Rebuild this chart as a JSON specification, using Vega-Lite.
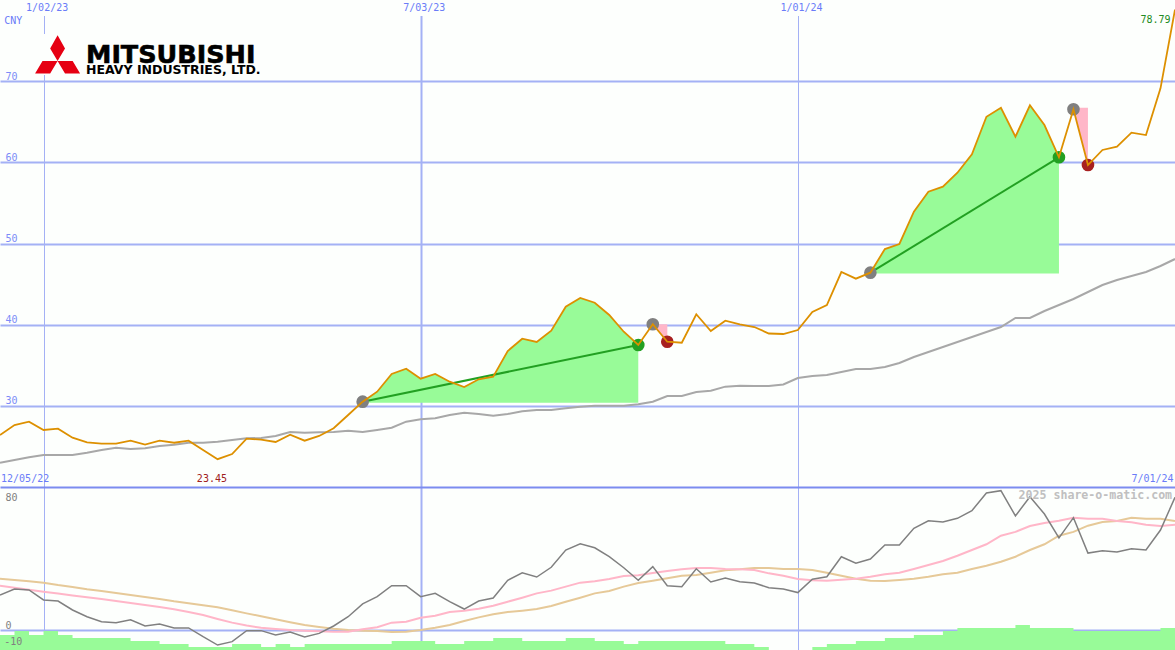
{
  "$schema": "https://vega.github.io/schema/vega-lite/v6.json",
  "background": "#fdfffd",
  "padding": 0,
  "spacing": 0,
  "bounds": "flush",
  "config": {
    "view": {"stroke": null},
    "font": "DejaVu Sans Mono",
    "axis": {"title": null, "ticks": false, "labelFont": "DejaVu Sans Mono", "labelFontSize": 10, "labelBound": false, "labelFlush": false, "labelOverlap": false, "minExtent": 0, "maxExtent": 0}
  },
  "datasets": {
    "weeks": [
      {"date": "2022-12-12", "price": 26.43, "ma": 23.02, "osc": 21.9, "sig": 27.7, "slow": 32.1, "hist": -3.1},
      {"date": "2022-12-19", "price": 27.66, "ma": 23.35, "osc": 25.6, "sig": 26.4, "slow": 31.3, "hist": -0.6},
      {"date": "2022-12-26", "price": 28.07, "ma": 23.69, "osc": 25, "sig": 25.2, "slow": 30.4, "hist": -3.1},
      {"date": "2023-01-02", "price": 27.05, "ma": 23.97, "osc": 18.8, "sig": 23.9, "slow": 29.6, "hist": -0.6},
      {"date": "2023-01-09", "price": 27.21, "ma": 23.97, "osc": 18.1, "sig": 22.8, "slow": 28.1, "hist": -3.1},
      {"date": "2023-01-16", "price": 26.1, "ma": 23.97, "osc": 12.5, "sig": 21.6, "slow": 26.9, "hist": -5},
      {"date": "2023-01-23", "price": 25.53, "ma": 24.25, "osc": 8.3, "sig": 20.4, "slow": 25.4, "hist": -5},
      {"date": "2023-01-30", "price": 25.36, "ma": 24.58, "osc": 5.2, "sig": 19.4, "slow": 24.4, "hist": -5},
      {"date": "2023-02-06", "price": 25.36, "ma": 24.87, "osc": 4.6, "sig": 18.1, "slow": 23.1, "hist": -5},
      {"date": "2023-02-13", "price": 25.73, "ma": 24.71, "osc": 6.4, "sig": 16.9, "slow": 21.9, "hist": -6.9},
      {"date": "2023-02-20", "price": 25.24, "ma": 24.79, "osc": 2.5, "sig": 15.6, "slow": 20.6, "hist": -6.9},
      {"date": "2023-02-27", "price": 25.73, "ma": 25.08, "osc": 3.8, "sig": 14.4, "slow": 19.4, "hist": -8.75},
      {"date": "2023-03-06", "price": 25.48, "ma": 25.24, "osc": 1.3, "sig": 12.9, "slow": 17.9, "hist": -8.75},
      {"date": "2023-03-13", "price": 25.73, "ma": 25.48, "osc": 1.3, "sig": 11.3, "slow": 16.7, "hist": -10.6},
      {"date": "2023-03-20", "price": 24.58, "ma": 25.48, "osc": -4.2, "sig": 9.4, "slow": 15.4, "hist": -10.6},
      {"date": "2023-03-27", "price": 23.45, "ma": 25.61, "osc": -9.4, "sig": 6.9, "slow": 14.2, "hist": -10.6},
      {"date": "2023-04-03", "price": 24.09, "ma": 25.82, "osc": -7.3, "sig": 4.6, "slow": 12.3, "hist": -8.75},
      {"date": "2023-04-10", "price": 25.98, "ma": 26.02, "osc": -0.4, "sig": 2.8, "slow": 10.4, "hist": -8.75},
      {"date": "2023-04-17", "price": 25.85, "ma": 26.06, "osc": -0.4, "sig": 1.4, "slow": 8.6, "hist": -10.6},
      {"date": "2023-04-24", "price": 25.57, "ma": 26.31, "osc": -3.1, "sig": 0.6, "slow": 6.7, "hist": -8.75},
      {"date": "2023-05-01", "price": 26.47, "ma": 26.8, "osc": -1.3, "sig": 0, "slow": 4.8, "hist": -10.6},
      {"date": "2023-05-08", "price": 25.73, "ma": 26.71, "osc": -4.4, "sig": -0.4, "slow": 3.1, "hist": -8.75},
      {"date": "2023-05-15", "price": 26.31, "ma": 26.76, "osc": -2.1, "sig": -0.8, "slow": 1.9, "hist": -8.75},
      {"date": "2023-05-22", "price": 27.26, "ma": 26.8, "osc": 2.5, "sig": -1.1, "slow": 0.8, "hist": -8.75},
      {"date": "2023-05-29", "price": 28.89, "ma": 26.96, "osc": 8.3, "sig": -1.1, "slow": 0, "hist": -8.75},
      {"date": "2023-06-05", "price": 30.53, "ma": 26.8, "osc": 16.3, "sig": 0.4, "slow": -0.4, "hist": -8.75},
      {"date": "2023-06-12", "price": 31.76, "ma": 27.05, "osc": 20.8, "sig": 1.7, "slow": -0.6, "hist": -8.75},
      {"date": "2023-06-19", "price": 33.94, "ma": 27.33, "osc": 27.7, "sig": 4.6, "slow": -1.3, "hist": -6.9},
      {"date": "2023-06-26", "price": 34.59, "ma": 28.07, "osc": 27.7, "sig": 5.2, "slow": -1.1, "hist": -6.9},
      {"date": "2023-07-03", "price": 33.36, "ma": 28.36, "osc": 20.8, "sig": 7.7, "slow": 0, "hist": -6.9},
      {"date": "2023-07-10", "price": 33.94, "ma": 28.49, "osc": 22.9, "sig": 8.9, "slow": 1.4, "hist": -8.75},
      {"date": "2023-07-17", "price": 32.99, "ma": 28.89, "osc": 17.7, "sig": 11.3, "slow": 3.1, "hist": -8.75},
      {"date": "2023-07-24", "price": 32.34, "ma": 29.18, "osc": 13.1, "sig": 12.1, "slow": 5.6, "hist": -6.9},
      {"date": "2023-07-31", "price": 33.29, "ma": 29.02, "osc": 18.1, "sig": 13.3, "slow": 7.9, "hist": -6.9},
      {"date": "2023-08-07", "price": 33.61, "ma": 28.81, "osc": 20, "sig": 15.2, "slow": 9.8, "hist": -5},
      {"date": "2023-08-14", "price": 36.77, "ma": 29.02, "osc": 31.1, "sig": 17.7, "slow": 11.3, "hist": -5},
      {"date": "2023-08-21", "price": 38.28, "ma": 29.35, "osc": 35.8, "sig": 20.2, "slow": 12.1, "hist": -6.9},
      {"date": "2023-08-28", "price": 37.88, "ma": 29.51, "osc": 33.1, "sig": 22.9, "slow": 13.1, "hist": -6.9},
      {"date": "2023-09-04", "price": 39.27, "ma": 29.51, "osc": 39.2, "sig": 24.6, "slow": 15, "hist": -6.9},
      {"date": "2023-09-11", "price": 42.22, "ma": 29.72, "osc": 50, "sig": 27.1, "slow": 17.7, "hist": -5},
      {"date": "2023-09-18", "price": 43.29, "ma": 29.91, "osc": 53.9, "sig": 29.6, "slow": 20.2, "hist": -5},
      {"date": "2023-09-25", "price": 42.71, "ma": 30.04, "osc": 51.4, "sig": 30.4, "slow": 22.9, "hist": -6.9},
      {"date": "2023-10-02", "price": 41.2, "ma": 30.04, "osc": 45.8, "sig": 31.9, "slow": 24.4, "hist": -6.9},
      {"date": "2023-10-09", "price": 39.14, "ma": 30.04, "osc": 38.9, "sig": 33.8, "slow": 27.1, "hist": -8.75},
      {"date": "2023-10-16", "price": 37.51, "ma": 30.21, "osc": 31.1, "sig": 34.2, "slow": 29.4, "hist": -6.9},
      {"date": "2023-10-23", "price": 40.06, "ma": 30.53, "osc": 39.6, "sig": 35.6, "slow": 30.8, "hist": -6.9},
      {"date": "2023-10-30", "price": 37.91, "ma": 31.23, "osc": 27.7, "sig": 36.9, "slow": 32.3, "hist": -6.9},
      {"date": "2023-11-06", "price": 37.79, "ma": 31.23, "osc": 27.1, "sig": 37.9, "slow": 33.9, "hist": -6.9},
      {"date": "2023-11-13", "price": 41.29, "ma": 31.72, "osc": 38.3, "sig": 38.8, "slow": 34.4, "hist": -6.9},
      {"date": "2023-11-20", "price": 39.23, "ma": 31.88, "osc": 30, "sig": 38.8, "slow": 35.8, "hist": -6.9},
      {"date": "2023-11-27", "price": 40.5, "ma": 32.38, "osc": 32.5, "sig": 38.1, "slow": 37.3, "hist": -8.75},
      {"date": "2023-12-04", "price": 40.06, "ma": 32.5, "osc": 30.2, "sig": 37.9, "slow": 37.9, "hist": -8.75},
      {"date": "2023-12-11", "price": 39.72, "ma": 32.46, "osc": 29.4, "sig": 37.5, "slow": 38.8, "hist": -10.6},
      {"date": "2023-12-18", "price": 38.92, "ma": 32.46, "osc": 26.4, "sig": 35.4, "slow": 38.8, "hist": -12.5},
      {"date": "2023-12-25", "price": 38.86, "ma": 32.65, "osc": 25.6, "sig": 33.9, "slow": 38.1, "hist": -12.5},
      {"date": "2024-01-01", "price": 39.35, "ma": 33.45, "osc": 23.4, "sig": 31.9, "slow": 38.1, "hist": -12.5},
      {"date": "2024-01-08", "price": 41.57, "ma": 33.69, "osc": 31.7, "sig": 31.1, "slow": 37.5, "hist": -10.6},
      {"date": "2024-01-15", "price": 42.43, "ma": 33.82, "osc": 33.3, "sig": 30.8, "slow": 35.8, "hist": -8.75},
      {"date": "2024-01-22", "price": 46.49, "ma": 34.18, "osc": 45.8, "sig": 31.4, "slow": 33.9, "hist": -8.75},
      {"date": "2024-01-29", "price": 45.67, "ma": 34.55, "osc": 41.7, "sig": 32.1, "slow": 32.1, "hist": -6.9},
      {"date": "2024-02-05", "price": 46.41, "ma": 34.55, "osc": 44.4, "sig": 33.3, "slow": 30.8, "hist": -6.9},
      {"date": "2024-02-12", "price": 49.32, "ma": 34.8, "osc": 53.1, "sig": 34.8, "slow": 30.6, "hist": -5},
      {"date": "2024-02-19", "price": 49.94, "ma": 35.29, "osc": 53.1, "sig": 35.8, "slow": 31.3, "hist": -5},
      {"date": "2024-02-26", "price": 53.91, "ma": 36.03, "osc": 63.6, "sig": 38.1, "slow": 32.1, "hist": -3.1},
      {"date": "2024-03-04", "price": 56.38, "ma": 36.65, "osc": 68.3, "sig": 40.6, "slow": 33.3, "hist": -3.1},
      {"date": "2024-03-11", "price": 56.99, "ma": 37.26, "osc": 67.5, "sig": 43.1, "slow": 34.8, "hist": -0.6},
      {"date": "2024-03-18", "price": 58.71, "ma": 37.88, "osc": 69.8, "sig": 46.4, "slow": 35.8, "hist": 1.25},
      {"date": "2024-03-25", "price": 60.98, "ma": 38.49, "osc": 74.6, "sig": 50, "slow": 38.1, "hist": 1.25},
      {"date": "2024-04-01", "price": 65.6, "ma": 39.11, "osc": 85.6, "sig": 53.6, "slow": 40.2, "hist": 1.25},
      {"date": "2024-04-08", "price": 66.71, "ma": 39.72, "osc": 87.1, "sig": 58.9, "slow": 42.7, "hist": 1.25},
      {"date": "2024-04-15", "price": 63.14, "ma": 40.83, "osc": 71.3, "sig": 61.3, "slow": 45.8, "hist": 3.1},
      {"date": "2024-04-22", "price": 67.01, "ma": 40.83, "osc": 83.3, "sig": 65, "slow": 50, "hist": 1.25},
      {"date": "2024-04-29", "price": 64.58, "ma": 41.69, "osc": 72.5, "sig": 66.9, "slow": 53.6, "hist": 1.25},
      {"date": "2024-05-06", "price": 60.61, "ma": 42.43, "osc": 57.5, "sig": 68.3, "slow": 58.9, "hist": 1.25},
      {"date": "2024-05-13", "price": 66.52, "ma": 43.17, "osc": 70.2, "sig": 70.2, "slow": 61.3, "hist": -0.6},
      {"date": "2024-05-20", "price": 59.66, "ma": 44.03, "osc": 48.1, "sig": 69.6, "slow": 65.2, "hist": -0.6},
      {"date": "2024-05-27", "price": 61.51, "ma": 44.89, "osc": 49.6, "sig": 69.6, "slow": 67.5, "hist": -0.6},
      {"date": "2024-06-03", "price": 61.91, "ma": 45.51, "osc": 48.8, "sig": 68.1, "slow": 68.1, "hist": -0.6},
      {"date": "2024-06-10", "price": 63.64, "ma": 46, "osc": 50.8, "sig": 67.3, "slow": 70.2, "hist": -0.6},
      {"date": "2024-06-17", "price": 63.35, "ma": 46.49, "osc": 50, "sig": 65.8, "slow": 69.6, "hist": -0.6},
      {"date": "2024-06-24", "price": 69.1, "ma": 47.23, "osc": 62.5, "sig": 65, "slow": 69.6, "hist": 1.25},
      {"date": "2024-07-01", "price": 78.79, "ma": 48.09, "osc": 82.9, "sig": 65.8, "slow": 68.1, "hist": 1.25}
    ],
    "gains": [
      {"trade": "a", "date": "2023-06-05", "price": 30.53, "base": 30.4},
      {"trade": "a", "date": "2023-06-12", "price": 31.76, "base": 30.4},
      {"trade": "a", "date": "2023-06-19", "price": 33.94, "base": 30.4},
      {"trade": "a", "date": "2023-06-26", "price": 34.59, "base": 30.4},
      {"trade": "a", "date": "2023-07-03", "price": 33.36, "base": 30.4},
      {"trade": "a", "date": "2023-07-10", "price": 33.94, "base": 30.4},
      {"trade": "a", "date": "2023-07-17", "price": 32.99, "base": 30.4},
      {"trade": "a", "date": "2023-07-24", "price": 32.34, "base": 30.4},
      {"trade": "a", "date": "2023-07-31", "price": 33.29, "base": 30.4},
      {"trade": "a", "date": "2023-08-07", "price": 33.61, "base": 30.4},
      {"trade": "a", "date": "2023-08-14", "price": 36.77, "base": 30.4},
      {"trade": "a", "date": "2023-08-21", "price": 38.28, "base": 30.4},
      {"trade": "a", "date": "2023-08-28", "price": 37.88, "base": 30.4},
      {"trade": "a", "date": "2023-09-04", "price": 39.27, "base": 30.4},
      {"trade": "a", "date": "2023-09-11", "price": 42.22, "base": 30.4},
      {"trade": "a", "date": "2023-09-18", "price": 43.29, "base": 30.4},
      {"trade": "a", "date": "2023-09-25", "price": 42.71, "base": 30.4},
      {"trade": "a", "date": "2023-10-02", "price": 41.2, "base": 30.4},
      {"trade": "a", "date": "2023-10-09", "price": 39.14, "base": 30.4},
      {"trade": "a", "date": "2023-10-16", "price": 37.51, "base": 30.4},
      {"trade": "b", "date": "2024-02-05", "price": 46.41, "base": 46.3},
      {"trade": "b", "date": "2024-02-12", "price": 49.32, "base": 46.3},
      {"trade": "b", "date": "2024-02-19", "price": 49.94, "base": 46.3},
      {"trade": "b", "date": "2024-02-26", "price": 53.91, "base": 46.3},
      {"trade": "b", "date": "2024-03-04", "price": 56.38, "base": 46.3},
      {"trade": "b", "date": "2024-03-11", "price": 56.99, "base": 46.3},
      {"trade": "b", "date": "2024-03-18", "price": 58.71, "base": 46.3},
      {"trade": "b", "date": "2024-03-25", "price": 60.98, "base": 46.3},
      {"trade": "b", "date": "2024-04-01", "price": 65.6, "base": 46.3},
      {"trade": "b", "date": "2024-04-08", "price": 66.71, "base": 46.3},
      {"trade": "b", "date": "2024-04-15", "price": 63.14, "base": 46.3},
      {"trade": "b", "date": "2024-04-22", "price": 67.01, "base": 46.3},
      {"trade": "b", "date": "2024-04-29", "price": 64.58, "base": 46.3},
      {"trade": "b", "date": "2024-05-06", "price": 60.61, "base": 46.3}
    ],
    "losses": [
      {"trade": "a", "date": "2023-10-23", "price": 40.06, "base": 40.06},
      {"trade": "a", "date": "2023-10-30", "price": 37.91, "base": 40.06},
      {"trade": "b", "date": "2024-05-13", "price": 66.52, "base": 66.7},
      {"trade": "b", "date": "2024-05-20", "price": 59.66, "base": 66.7}
    ],
    "trades": [
      {"trade": "a", "date": "2023-06-05", "price": 30.53},
      {"trade": "a", "date": "2023-10-16", "price": 37.51},
      {"trade": "b", "date": "2024-02-05", "price": 46.41},
      {"trade": "b", "date": "2024-05-06", "price": 60.61}
    ],
    "signals": [
      {"date": "2023-06-05", "price": 30.53, "signal": "entry"},
      {"date": "2023-10-16", "price": 37.51, "signal": "gain"},
      {"date": "2023-10-23", "price": 40.06, "signal": "entry"},
      {"date": "2023-10-30", "price": 37.91, "signal": "loss"},
      {"date": "2024-02-05", "price": 46.41, "signal": "entry"},
      {"date": "2024-05-06", "price": 60.61, "signal": "gain"},
      {"date": "2024-05-13", "price": 66.52, "signal": "entry"},
      {"date": "2024-05-20", "price": 59.66, "signal": "loss"}
    ],
    "masks": [
      {"date": "2022-12-12", "date2": "2024-07-01", "v1": 78, "v2": 79.97},
      {"date": "2022-12-29T10:00:00Z", "date2": "2023-04-17", "v1": 70.74, "v2": 75.78}
    ],
    "notes": [
      {"date": "2022-12-24T14:00:00Z", "value": 78.98, "label": "1/02/23", "tone": "date"},
      {"date": "2023-06-24T14:00:00Z", "value": 78.98, "label": "7/03/23", "tone": "date"},
      {"date": "2023-12-23T14:00:00Z", "value": 78.98, "label": "1/01/24", "tone": "date"},
      {"date": "2022-12-14", "value": 77.38, "label": "CNY", "tone": "date"},
      {"date": "2022-12-12T12:00:00Z", "value": 21.02, "label": "12/05/22", "tone": "date"},
      {"date": "2023-03-17", "value": 21.02, "label": "23.45", "tone": "low"},
      {"date": "2024-06-10", "value": 21.02, "label": "7/01/24", "tone": "date"},
      {"date": "2024-06-14T08:00:00Z", "value": 77.5, "label": "78.79", "tone": "high"}
    ]
  },
  "resolve": {"scale": {"color": "independent"}},
  "vconcat": [
    {
      "width": 1175,
      "height": 487,
      "encoding": {
        "x": {
          "field": "date",
          "type": "temporal",
          "scale": {"type": "utc", "domain": [{"year": 2022, "month": 12, "date": 12, "utc": true}, {"year": 2024, "month": 7, "date": 1, "utc": true}]},
          "axis": {
            "orient": "top",
            "values": [{"year": 2023, "month": 1, "date": 2, "utc": true}, {"year": 2023, "month": 7, "date": 3, "utc": true}, {"year": 2024, "month": 1, "date": 1, "utc": true}],
            "labels": false,
            "domain": false,
            "grid": true,
            "gridColor": "#a4b1f5",
            "gridWidth": {"condition": {"test": "utcyear(datum.value) == 2023 && utcmonth(datum.value) == 6", "value": 2}, "value": 1}
          }
        },
        "y": {
          "field": "price",
          "type": "quantitative",
          "scale": {"domain": [20.03, 79.97], "nice": false, "zero": false},
          "axis": {
            "orient": "left",
            "values": [30, 40, 50, 60, 70],
            "domain": false,
            "grid": true,
            "gridColor": "#a4b1f5",
            "gridWidth": 2,
            "labelColor": "#7c8cf8",
            "labelAlign": "left",
            "labelBaseline": "bottom",
            "labelPadding": -5
          }
        }
      },
      "layer": [
        {
          "data": {"name": "masks"},
          "mark": {"type": "rect", "color": "#fdfffd"},
          "encoding": {
            "x2": {"field": "date2"},
            "y": {"field": "v1", "type": "quantitative"},
            "y2": {"field": "v2"}
          }
        },
        {
          "data": {"name": "gains"},
          "mark": {"type": "area", "color": "#98fb98"},
          "encoding": {"y2": {"field": "base"}, "detail": {"field": "trade"}}
        },
        {
          "data": {"name": "losses"},
          "mark": {"type": "area", "color": "#ffb6c8"},
          "encoding": {"y2": {"field": "base"}, "detail": {"field": "trade"}}
        },
        {
          "data": {"name": "weeks"},
          "mark": {"type": "line", "color": "#a8a8a8", "strokeWidth": 2, "clip": true},
          "encoding": {"y": {"field": "ma", "type": "quantitative"}}
        },
        {
          "data": {"name": "trades"},
          "mark": {"type": "line", "color": "#22a022", "strokeWidth": 2},
          "encoding": {"detail": {"field": "trade"}}
        },
        {
          "data": {"name": "signals"},
          "mark": {"type": "point", "filled": true, "opacity": 1, "size": 160},
          "encoding": {
            "color": {"field": "signal", "type": "nominal", "scale": {"domain": ["entry", "gain", "loss", "date", "low", "high"], "range": ["#808080", "#22a022", "#a82020", "#6a7cf8", "#a02020", "#228b22"]}, "legend": null}
          }
        },
        {
          "data": {"name": "weeks"},
          "mark": {"type": "line", "color": "#dd9000", "strokeWidth": 1.8, "clip": true}
        },
        {
          "data": {"values": [{"date": "2023-01-08T19:00:00Z", "value": 73.32}]},
          "mark": {"type": "point", "filled": true, "opacity": 1, "color": "#e60012", "size": 2025, "shape": "M0,-.84L.33,-.25L0,.31L-.33,-.25ZM0,.31L-.67,.31L-1,.86L-.33,.86ZM0,.31L.67,.31L1,.86L.33,.86Z"},
          "encoding": {"y": {"field": "value", "type": "quantitative"}}
        },
        {
          "data": {"values": [
            {"date": "2023-01-22T12:00:00Z", "value": 72.16, "label": "MITSUBISHI"}
          ]},
          "mark": {"type": "text", "align": "left", "baseline": "alphabetic", "font": "DejaVu Sans", "fontWeight": "bold", "fontSize": 25.5, "color": "#000000", "stroke": "#000000", "strokeWidth": 0.6},
          "encoding": {"y": {"field": "value", "type": "quantitative"}, "text": {"field": "label"}}
        },
        {
          "data": {"values": [
            {"date": "2023-01-22T12:00:00Z", "value": 70.86, "label": "HEAVY INDUSTRIES, LTD."}
          ]},
          "mark": {"type": "text", "align": "left", "baseline": "alphabetic", "font": "DejaVu Sans", "fontWeight": "bold", "fontSize": 12.5, "color": "#000000"},
          "encoding": {"y": {"field": "value", "type": "quantitative"}, "text": {"field": "label"}}
        },
        {
          "data": {"name": "notes"},
          "mark": {"type": "text", "align": "left", "baseline": "middle", "fontSize": 10},
          "encoding": {
            "y": {"field": "value", "type": "quantitative"},
            "text": {"field": "label"},
            "color": {"field": "tone", "type": "nominal", "scale": {"domain": ["entry", "gain", "loss", "date", "low", "high"], "range": ["#808080", "#22a022", "#a82020", "#6a7cf8", "#a02020", "#228b22"]}, "legend": null}
          }
        }
      ]
    },
    {
      "width": 1175,
      "height": 163,
      "encoding": {
        "x": {
          "field": "date",
          "type": "temporal",
          "scale": {"type": "utc", "domain": [{"year": 2022, "month": 12, "date": 12, "utc": true}, {"year": 2024, "month": 7, "date": 1, "utc": true}]},
          "axis": {
            "orient": "top",
            "values": [{"year": 2023, "month": 1, "date": 2, "utc": true}, {"year": 2023, "month": 7, "date": 3, "utc": true}, {"year": 2024, "month": 1, "date": 1, "utc": true}],
            "labels": false,
            "domain": true,
            "domainColor": "#7c8cf0",
            "domainWidth": 2,
            "grid": true,
            "gridColor": "#a4b1f5",
            "gridWidth": {"condition": {"test": "utcyear(datum.value) == 2023 && utcmonth(datum.value) == 6", "value": 2}, "value": 1}
          }
        },
        "y": {
          "scale": {"domain": [-12.5, 89.375], "nice": false, "zero": false}
        }
      },
      "layer": [
        {
          "data": {"name": "weeks"},
          "mark": {"type": "area", "color": "#98fb98", "interpolate": "step-after"},
          "encoding": {
            "y": {
              "field": "hist",
              "type": "quantitative",
              "axis": {
                "orient": "left",
                "values": [80, 0],
                "domain": false,
                "grid": true,
                "gridColor": "#a4b1f5",
                "gridWidth": 2,
                "gridOpacity": {"condition": {"test": "datum.value == 0", "value": 1}, "value": 0},
                "labelColor": "#808080",
                "labelAlign": "left",
                "labelBaseline": "bottom",
                "labelPadding": -5
              }
            },
            "y2": {"datum": -12.5}
          }
        },
        {
          "data": {"name": "weeks"},
          "mark": {"type": "line", "color": "#e6c998", "strokeWidth": 2, "clip": true},
          "encoding": {"y": {"field": "slow", "type": "quantitative"}}
        },
        {
          "data": {"name": "weeks"},
          "mark": {"type": "line", "color": "#ffb6c8", "strokeWidth": 2, "clip": true},
          "encoding": {"y": {"field": "sig", "type": "quantitative"}}
        },
        {
          "data": {"name": "weeks"},
          "mark": {"type": "line", "color": "#808080", "strokeWidth": 1.5, "clip": true},
          "encoding": {"y": {"field": "osc", "type": "quantitative"}}
        },
        {
          "data": {"values": [{"date": "2022-12-14", "value": -7.3, "label": "-10"}]},
          "mark": {"type": "text", "align": "left", "baseline": "middle", "fontSize": 10, "color": "#808080"},
          "encoding": {"y": {"field": "value", "type": "quantitative"}, "text": {"field": "label"}}
        },
        {
          "data": {"values": [{"date": "2024-04-16T12:00:00Z", "value": 83.75, "label": "2025 share-o-matic.com"}]},
          "mark": {"type": "text", "align": "left", "baseline": "middle", "fontSize": 11.6, "fontWeight": "bold", "color": "#c0c0c0"},
          "encoding": {"y": {"field": "value", "type": "quantitative"}, "text": {"field": "label"}}
        }
      ]
    }
  ]
}
